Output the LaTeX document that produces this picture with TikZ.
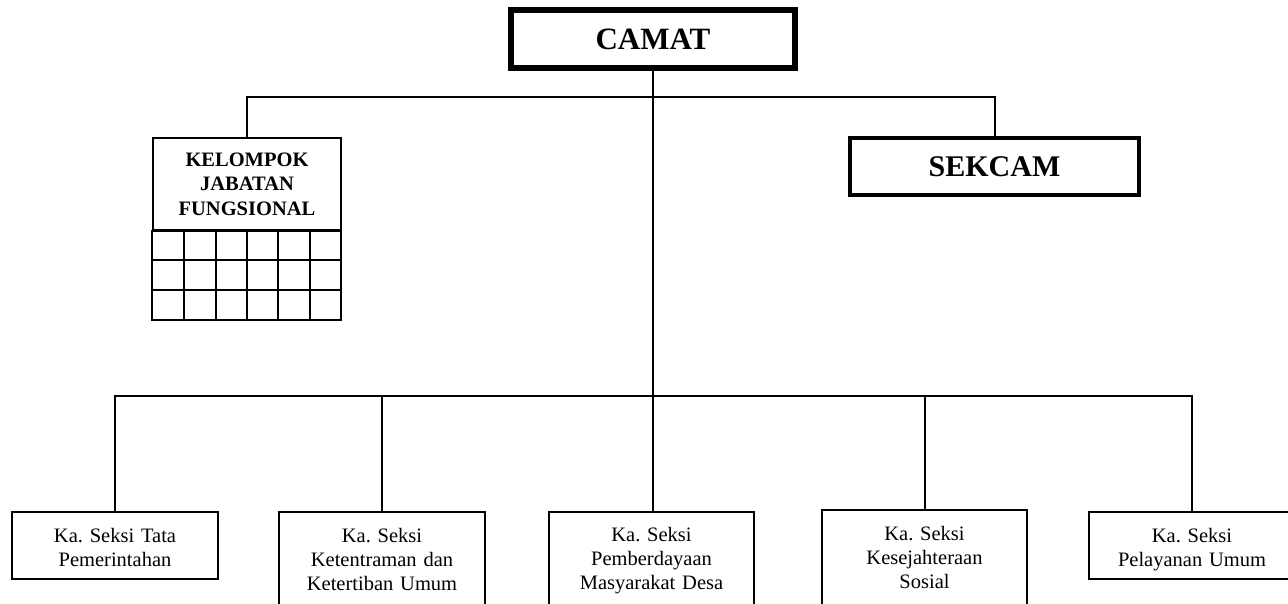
\documentclass[tikz,border=0pt]{standalone}
\usepackage{fontspec}
\setmainfont{Liberation Serif}
\frenchspacing
\tikzset{
  kepala/.style={draw, rectangle, inner sep=0pt, align=center,
    font=\bfseries\fontsize{31}{36}\selectfont},
  seksi/.style={draw, rectangle, line width=2pt, inner sep=0pt, align=center,
    minimum width=206pt, text width=200pt,
    font=\fontsize{20.5}{24}\selectfont},
  garis/.style={line width=2pt}
}
\begin{document}
\begin{tikzpicture}[x=1pt, y=-1pt]
        \useasboundingbox (0,0) rectangle (1288,603);
        \clip (0,0) rectangle (1288,603);

        \node[kepala, line width=5.5pt, minimum width=284pt, minimum height=58pt] (camat) at (653,39) {CAMAT};
        \node[kepala, line width=4.3pt, minimum width=289pt, minimum height=57pt,
              font=\bfseries\fontsize{30}{35}\selectfont] (sekcam) at (994.5,166.5) {SEKCAM};

        % kelompok jabatan fungsional
        \node[draw, line width=2pt, inner sep=0pt, align=center, minimum width=188pt, minimum height=92pt,
              font=\bfseries\fontsize{20.5}{24.5}\selectfont] (kjf) at (247,184) {KELOMPOK\\JABATAN\\FUNGSIONAL};
        \foreach \i in {1,...,5}
            \draw[garis] (153+31.333*\i,230) -- (153+31.333*\i,320);
        \foreach \j in {1,2}
            \draw[garis] (153,230+30*\j) -- (341,230+30*\j);
        \draw[garis] (kjf.south west) rectangle (341,320);

        \node[seksi, minimum height=67pt] (tp) at (115,545.5) {\rule{0pt}{26pt}Ka. Seksi Tata\\Pemerintahan\strut};
        \node[seksi, minimum height=99pt] (ktu) at (382,561.5) {\strut Ka. Seksi\\Ketentraman dan\\Ketertiban Umum\strut};
        \node[seksi, minimum height=99pt, minimum width=205pt] (pmd) at (651.5,561) {\strut Ka. Seksi\\Pemberdayaan\\Masyarakat Desa\strut};
        \node[seksi, minimum height=99pt, minimum width=205pt] (ks) at (924.5,559.5) {\strut Ka. Seksi\\Kesejahteraan\\Sosial\strut};
        \node[seksi, minimum height=67pt] (pu) at (1192,545) {\rule{0pt}{26pt}Ka. Seksi\\Pelayanan Umum\strut};

        \coordinate (bus) at (0,396);
        \draw[garis] (kjf.north) -- ++(0,-40) -| (sekcam.north);
        \draw[garis] (camat.south) -- (camat.south |- pmd.north);
        \draw[garis] (tp.north) |- (bus -| pu.north) -- (pu.north);
        \foreach \n in {ktu,ks}
            \draw[garis] (\n.north) -- (\n.north |- bus);
    \end{tikzpicture}
\end{document}
